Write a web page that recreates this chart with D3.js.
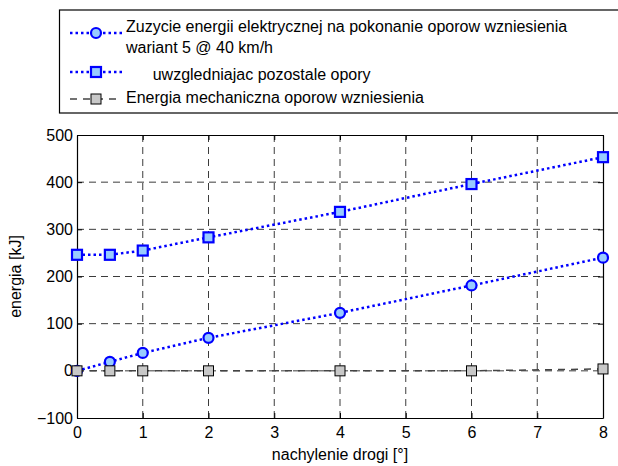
<!DOCTYPE html>
<html>
<head>
<meta charset="utf-8">
<script src="https://cdn.jsdelivr.net/npm/d3@7"></script>
<style>
  body { margin: 0; background: #fff; }
  svg { display: block; font-family: "Liberation Sans", Arial, sans-serif; }
</style>
</head>
<body>
<svg id="chart" width="618" height="466"></svg>
<script>
// Road gradient [°]
const slopes = [0, 0.5, 1, 2, 4, 6, 8];
// Electrical energy used to overcome the gradient, variant 5 @ 40 km/h [kJ]
const elecGrade = [0, 19, 38, 70, 123, 181, 240];
// Same, including the remaining resistances [kJ]
const elecTotal = [246, 246, 255, 283, 337, 396, 453];
// Mechanical energy of the gradient resistance [kJ]
const mechGrade = [0, 0, 0, 0, 0, 0, 4];

const xTicks = [0, 1, 2, 3, 4, 5, 6, 7, 8];
const yTicks = [-100, 0, 100, 200, 300, 400, 500];

const legendLabels = [
  ["Zuzycie energii elektrycznej na pokonanie oporow wzniesienia", "wariant 5 @ 40 km/h"],
  ["      uwzgledniajac pozostale opory"],
  ["Energia mechaniczna oporow wzniesienia"]
];

const svg = d3.select("#chart");
const plot = { left: 77, right: 603, top: 135, bottom: 418 };

const x = d3.scaleLinear().domain([0, 8]).range([plot.left, plot.right]);
const y = d3.scaleLinear().domain([-100, 500]).range([plot.bottom, plot.top]);

// grid
const grid = svg.append("g").attr("stroke", "#000").attr("stroke-width", 0.9)
  .attr("stroke-dasharray", "7,5").attr("opacity", 0.85);
xTicks.slice(1, -1).forEach(t => {
  grid.append("line").attr("x1", x(t)).attr("x2", x(t)).attr("y1", plot.top).attr("y2", plot.bottom);
});
yTicks.slice(1, -1).forEach(t => {
  grid.append("line").attr("x1", plot.left).attr("x2", plot.right).attr("y1", y(t)).attr("y2", y(t));
});

// axes (ticks point inward)
const fontSize = 16;
svg.append("g").attr("transform", `translate(0,${plot.bottom})`)
  .call(d3.axisBottom(x).tickValues(xTicks).tickSizeInner(-5).tickSizeOuter(0).tickPadding(9))
  .call(g => g.select(".domain").attr("stroke-width", 1.2))
  .call(g => g.selectAll("text").attr("font-size", fontSize).attr("fill", "#000"));
svg.append("g").attr("transform", `translate(0,${plot.top})`)
  .call(d3.axisTop(x).tickValues(xTicks).tickSizeInner(-5).tickSizeOuter(0).tickFormat(""))
  .call(g => g.select(".domain").attr("stroke-width", 1.2));
svg.append("g").attr("transform", `translate(${plot.left},0)`)
  .call(d3.axisLeft(y).tickValues(yTicks).tickSizeInner(-5).tickSizeOuter(0).tickPadding(4))
  .call(g => g.select(".domain").attr("stroke-width", 1.2))
  .call(g => g.selectAll("text").attr("font-size", fontSize).attr("fill", "#000"));
svg.append("g").attr("transform", `translate(${plot.right},0)`)
  .call(d3.axisRight(y).tickValues(yTicks).tickSizeInner(-5).tickSizeOuter(0).tickFormat(""))
  .call(g => g.select(".domain").attr("stroke-width", 1.2));

// axis labels
svg.append("text").attr("x", (plot.left + plot.right) / 2).attr("y", 460)
  .attr("text-anchor", "middle").attr("font-size", fontSize).text("nachylenie drogi [°]");
svg.append("text").attr("transform", `translate(21,${(plot.top + plot.bottom) / 2}) rotate(-90)`)
  .attr("text-anchor", "middle").attr("font-size", fontSize).text("energia [kJ]");

// series
const series = [
  { values: elecGrade, color: "#0000ff", width: 2.5, dash: "2.5,3", marker: "circle", fill: "#99ccff", mstroke: "#0000ff", mw: 2.2 },
  { values: elecTotal, color: "#0000ff", width: 2.5, dash: "2.5,3", marker: "square", fill: "#99ccff", mstroke: "#0000ff", mw: 2.2 },
  { values: mechGrade, color: "#444", width: 1.5, dash: "7,6", marker: "square", fill: "#c8c8c8", mstroke: "#000", mw: 1, small: true }
];

const line = d3.line().x(d => x(d[0])).y(d => y(d[1]));

function drawMarker(g, s, cx, cy) {
  if (s.marker === "circle") {
    g.append("circle").attr("cx", cx).attr("cy", cy).attr("r", 5)
      .attr("fill", s.fill).attr("stroke", s.mstroke).attr("stroke-width", s.mw);
  } else {
    const h = 5;
    g.append("rect").attr("x", cx - h).attr("y", cy - h).attr("width", 2 * h).attr("height", 2 * h)
      .attr("fill", s.fill).attr("stroke", s.mstroke).attr("stroke-width", s.mw);
  }
}

// series drawn in order, later ones on top
series.forEach(s => {
  const pts = slopes.map((v, j) => [v, s.values[j]]);
  const g = svg.append("g");
  g.append("path").datum(pts).attr("d", line).attr("fill", "none")
    .attr("stroke", s.color).attr("stroke-width", s.width).attr("stroke-dasharray", s.dash);
  pts.forEach(p => drawMarker(g, s, x(p[0]), y(p[1])));
});

// legend
const lg = svg.append("g");
lg.append("rect").attr("x", 59.5).attr("y", 10).attr("width", 570).attr("height", 103)
  .attr("fill", "#fff").attr("stroke", "#000").attr("stroke-width", 1.2);
const rows = [33, 72, 99];
const baselines = [[32, 53], [80], [103]];
rows.forEach((ry, i) => {
  const s = series[i];
  lg.append("line").attr("x1", 70).attr("x2", 122).attr("y1", ry).attr("y2", ry)
    .attr("stroke", s.color).attr("stroke-width", s.width).attr("stroke-dasharray", s.dash);
  drawMarker(lg, s, 96, ry);
  legendLabels[i].forEach((t, k) => {
    lg.append("text").attr("x", 126).attr("y", baselines[i][k])
      .attr("font-size", fontSize).attr("xml:space", "preserve").style("white-space", "pre").text(t);
  });
});
</script>
</body>
</html>
